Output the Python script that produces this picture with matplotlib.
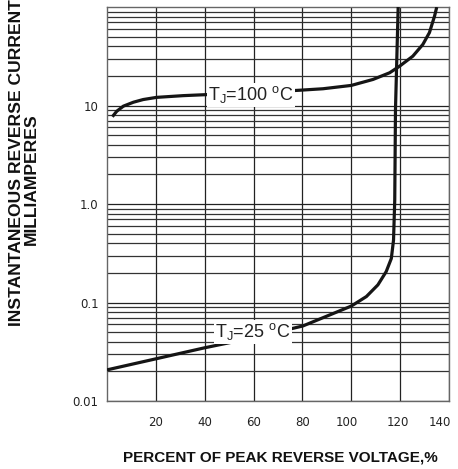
import matplotlib
matplotlib.use('Agg')
import matplotlib.pyplot as plt
from matplotlib.ticker import NullFormatter
import matplotlib.transforms as mtransforms

plt.rcParams['font.family'] = ['Liberation Sans', 'DejaVu Sans']
plt.rcParams['mathtext.fontset'] = 'custom'
plt.rcParams['mathtext.rm'] = 'Liberation Sans'

# percent of peak reverse voltage vs current (mA)
tj100_x = [2.2, 4.0, 6.7, 10.8, 14.8, 20.3, 31.2, 40.7, 50, 60, 70, 78.9, 88.4, 100, 108.9,
           115.7, 119.8, 125.2, 129.3, 132.0, 134.1, 135.0]
tj100_y = [7.7, 8.75, 9.85, 10.8, 11.5, 12.1, 12.6, 12.9, 13.2, 13.5, 13.9, 14.3, 14.8, 16.0, 18.4,
           21.5, 25.1, 31.7, 41.7, 55, 81, 100]

tj25_x = [0, 20, 40, 50, 65, 80.2, 91.2, 100, 106.2, 110.9, 114.3, 116.4, 117.3, 117.8, 118.1, 119.2]
tj25_y = [0.0207, 0.0268, 0.0347, 0.039, 0.047, 0.0578, 0.0748, 0.092, 0.115, 0.151, 0.206, 0.28,
          0.43, 1.1, 9.1, 100]

x_ticks = [20, 40, 60, 80, 100, 120, 140]
y_ticks = [0.01, 0.1, 1.0, 10]
y_labels = ['0.01', '0.1', '1.0', '10']

fig = plt.figure(figsize=(4.58, 4.69), dpi=100)
ax = fig.add_axes([0.2336, 0.145, 0.7467, 0.840])

ax.set_yscale('log')
ax.set_xlim(0, 140)
ax.set_ylim(0.01, 100)

ax.plot(tj100_x, tj100_y, color='#151515', lw=2.3, solid_capstyle='butt', zorder=3)
ax.plot(tj25_x, tj25_y, color='#151515', lw=2.3, solid_capstyle='butt', zorder=3)

box = dict(facecolor='white', edgecolor='none', pad=1.0)
ax.text(59.0, 12.8, r'T$_{\rm J}$=100 $^{\rm o}$C', fontsize=13, ha='center', va='center',
        color='#222222', bbox=box, zorder=4)
ax.text(59.7, 0.0506, r'T$_{\rm J}$=25 $^{\rm o}$C', fontsize=13, ha='center', va='center',
        color='#222222', bbox=box, zorder=4)

ax.set_xticks(x_ticks)
ax.set_xticklabels([str(v) for v in x_ticks])
ax.set_yticks(y_ticks)
ax.set_yticklabels(y_labels)
ax.yaxis.set_minor_formatter(NullFormatter())
ax.tick_params(which='both', length=0)
ax.tick_params(axis='x', pad=11, labelsize=8.5, labelcolor='#222222')
ax.tick_params(axis='y', pad=6, labelsize=8.5, labelcolor='#222222')
for lab in ax.get_xticklabels() + ax.get_yticklabels():
    lab.set_family('DejaVu Sans')

# last x labels sit a bit left of their grid lines
xl = ax.get_xticklabels()
for lab, dx in zip(xl[-3:], [-4, -2, -9]):
    lab.set_transform(lab.get_transform() + mtransforms.ScaledTranslation(dx / 100, 0, fig.dpi_scale_trans))

ax.grid(True, which='major', axis='both', color='#222222', lw=0.9)
ax.grid(True, which='minor', axis='y', color='#333333', lw=0.9)
for s in ax.spines.values():
    s.set_color('#666666')
    s.set_linewidth(1.0)

fig.text(0.6125, 0.0235, 'PERCENT OF PEAK REVERSE VOLTAGE,%', fontsize=11, fontweight='bold',
         ha='center', va='center', color='#111111')
fig.text(0.035, 0.653, 'INSTANTANEOUS REVERSE CURRENT', fontsize=12.6, fontweight='bold',
         ha='center', va='center', rotation=90, color='#111111')
fig.text(0.068, 0.619, 'MILLIAMPERES', fontsize=12.6, fontweight='bold',
         ha='center', va='center', rotation=90, color='#111111')

fig.savefig('out.png', dpi=100)
